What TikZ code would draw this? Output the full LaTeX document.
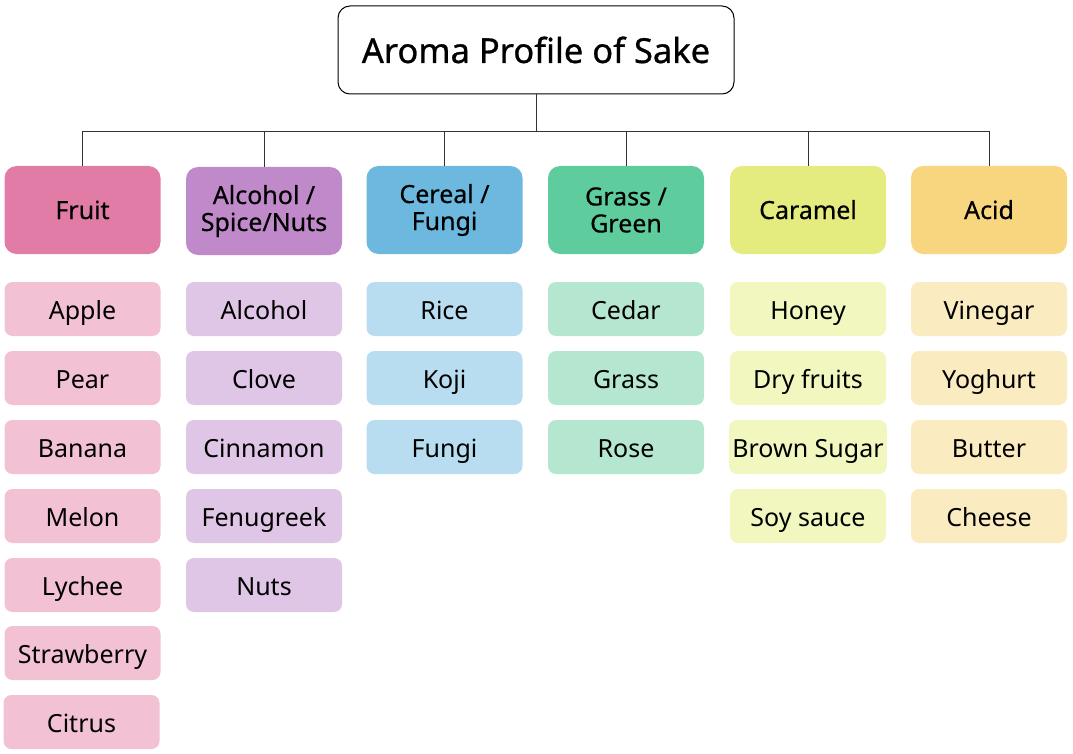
\documentclass[tikz,border=0pt]{standalone}
\usepackage{fontspec}
\setmainfont{Noto Sans}
\usepackage{tikz}

\definecolor{fruitdark}{HTML}{E07CA6}
\definecolor{fruitlight}{HTML}{F2C1D3}
\definecolor{alcdark}{HTML}{C08ACA}
\definecolor{alclight}{HTML}{E0C6E6}
\definecolor{cerdark}{HTML}{6CB8DE}
\definecolor{cerlight}{HTML}{B9DDF0}
\definecolor{grassdark}{HTML}{5FCC9D}
\definecolor{grasslight}{HTML}{B5E6D0}
\definecolor{caradark}{HTML}{E4EC7F}
\definecolor{caralight}{HTML}{F2F7C0}
\definecolor{aciddark}{HTML}{F8D680}
\definecolor{acidlight}{HTML}{FBEBC1}
\definecolor{linegray}{HTML}{333333}

\tikzset{
  titlebox/.style={draw=black,line width=1pt,rounded corners=12pt,minimum width=396pt,minimum height=88pt,
    text height=28pt,text depth=2pt,font=\fontsize{34.5}{40}\selectfont\addfontfeature{FakeBold=0.8}},
  catbox/.style={fill=#1,rounded corners=12pt,minimum width=156pt,minimum height=88pt,align=center,
    font=\fontsize{25}{27}\selectfont\addfontfeature{FakeBold=0.4}},
  catone/.style={catbox=#1,text height=22pt,text depth=4pt},
  itembox/.style={fill=#1,rounded corners=8pt,minimum width=156pt,minimum height=54pt,
    text height=24pt,text depth=4pt,font=\fontsize{25}{27}\selectfont},
  bus/.style={linegray,line width=1pt}
}

\begin{document}
\begin{tikzpicture}[x=1pt,y=-1pt]
                    \useasboundingbox (0,0) rectangle (1073,754);
                    \node[titlebox] (title) at (536,50) {Aroma Profile of Sake};
                    \coordinate (hub) at (536,132);
                    % categories
                    \node[catone=fruitdark] (fruit) at (82.5,210) {Fruit};
                    \node[catbox=alcdark] (alcohol) at (264,211) {Alcohol /\\Spice/Nuts};
                    \node[catbox=cerdark] (cereal) at (444.5,210) {Cereal /\\Fungi};
                    \node[catbox=grassdark] (grass) at (626,210) {Grass /\\Green};
                    \node[catone=caradark] (caramel) at (808,210) {Caramel};
                    \node[catone=aciddark] (acid) at (989,210) {Acid};
                    % connectors
                    \draw[bus] (title.south) -- (hub);
                    \draw[bus] (fruit.north) |- (hub);
                    \draw[bus] (alcohol.north) |- (hub);
                    \draw[bus] (cereal.north) |- (hub);
                    \draw[bus] (grass.north) |- (hub);
                    \draw[bus] (caramel.north) |- (hub);
                    \draw[bus] (acid.north) |- (hub);
                    % fruit
                    \node[itembox=fruitlight] (apple) at (82.5,309) {Apple};
                    \node[itembox=fruitlight] (pear) at (82.5,378) {Pear};
                    \node[itembox=fruitlight] (banana) at (82.5,447) {Banana};
                    \node[itembox=fruitlight] (melon) at (82.5,516) {Melon};
                    \node[itembox=fruitlight] (lychee) at (82.5,585) {Lychee};
                    \node[itembox=fruitlight] (strawberry) at (82.5,653) {Strawberry};
                    \node[itembox=fruitlight] (citrus) at (81.5,722) {Citrus};
                    % alcohol / spice / nuts
                    \node[itembox=alclight] (alc) at (264,309) {Alcohol};
                    \node[itembox=alclight] (clove) at (264,378) {Clove};
                    \node[itembox=alclight] (cinnamon) at (264,447) {Cinnamon};
                    \node[itembox=alclight] (fenugreek) at (264,516) {Fenugreek};
                    \node[itembox=alclight] (nuts) at (264,585) {Nuts};
                    % cereal / fungi
                    \node[itembox=cerlight] (rice) at (444.5,309) {Rice};
                    \node[itembox=cerlight] (koji) at (444.5,378) {Koji};
                    \node[itembox=cerlight] (fungi) at (444.5,447) {Fungi};
                    % grass / green
                    \node[itembox=grasslight] (cedar) at (626,309) {Cedar};
                    \node[itembox=grasslight] (grs) at (626,378) {Grass};
                    \node[itembox=grasslight] (rose) at (626,447) {Rose};
                    % caramel
                    \node[itembox=caralight] (honey) at (808,309) {Honey};
                    \node[itembox=caralight] (dryfruits) at (808,378) {Dry fruits};
                    \node[itembox=caralight] (brownsugar) at (808,447) {Brown Sugar};
                    \node[itembox=caralight] (soysauce) at (808,516) {Soy sauce};
                    % acid
                    \node[itembox=acidlight] (vinegar) at (989,309) {Vinegar};
                    \node[itembox=acidlight] (yoghurt) at (989,378) {Yoghurt};
                    \node[itembox=acidlight] (butter) at (989,447) {Butter};
                    \node[itembox=acidlight] (cheese) at (989,516) {Cheese};
                \end{tikzpicture}
\end{document}
